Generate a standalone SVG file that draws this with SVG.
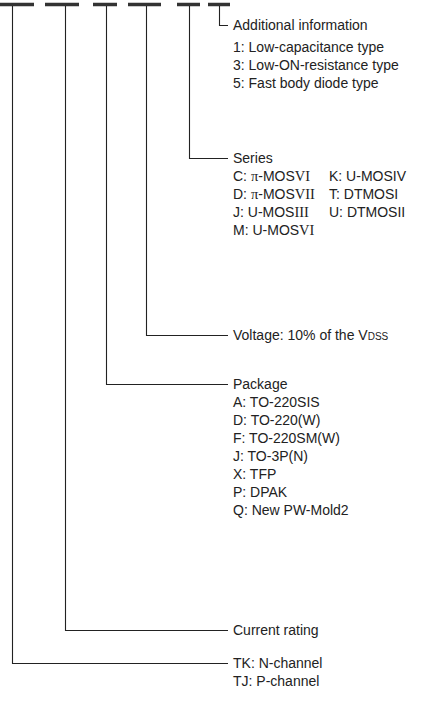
<svg xmlns="http://www.w3.org/2000/svg" width="435" height="725" viewBox="0 0 435 725">
<style>
.bar{stroke:#333;stroke-width:3.5;fill:none}
.ln{stroke:#222;stroke-width:1.1;fill:none}
text{font-family:"Liberation Sans",Arial,sans-serif;font-size:14px;fill:#222}
.r{font-family:"Liberation Serif","Times New Roman",serif;font-size:14.5px}
</style>
<rect width="435" height="725" fill="#fff"/>
<g id="bars">
<line class="bar" x1="0" y1="4.5" x2="34" y2="4.5"/>
<line class="bar" x1="45" y1="4.5" x2="79" y2="4.5"/>
<line class="bar" x1="93" y1="4.5" x2="117" y2="4.5"/>
<line class="bar" x1="128" y1="4.5" x2="161" y2="4.5"/>
<line class="bar" x1="177" y1="4.5" x2="200" y2="4.5"/>
<line class="bar" x1="208" y1="4.5" x2="230" y2="4.5"/>
</g>
<g id="connectors">
<polyline class="ln" points="12.5,6 12.5,663.5 228,663.5"/>
<polyline class="ln" points="65.5,6 65.5,630.5 228,630.5"/>
<polyline class="ln" points="106.5,6 106.5,384.5 228,384.5"/>
<polyline class="ln" points="146.5,6 146.5,335.5 228,335.5"/>
<polyline class="ln" points="189.5,6 189.5,158.5 228,158.5"/>
<polyline class="ln" points="219.5,6 219.5,25.5 228,25.5"/>
</g>
<g id="additional">
<text x="233" y="30">Additional information</text>
<text x="233" y="52">1: Low-capacitance type</text>
<text x="233" y="70">3: Low-ON-resistance type</text>
<text x="233" y="88">5: Fast body diode type</text>
</g>
<g id="series">
<text x="233" y="163">Series</text>
<text x="233" y="181">C: <tspan class="r">π</tspan>-MOS<tspan class="r">VI</tspan></text>
<text x="233" y="199">D: <tspan class="r">π</tspan>-MOS<tspan class="r">VII</tspan></text>
<text x="233" y="217">J: U-MOS<tspan class="r">III</tspan></text>
<text x="233" y="235">M: U-MOS<tspan class="r">VI</tspan></text>
<text x="329" y="181">K: U-MOSIV</text>
<text x="329" y="199">T: DTMOSI</text>
<text x="329" y="217">U: DTMOSII</text>
</g>
<g id="voltage">
<text x="233" y="340">Voltage: 10% of the V<tspan font-size="10">DSS</tspan></text>
</g>
<g id="package">
<text x="233" y="389">Package</text>
<text x="233" y="407">A: TO-220SIS</text>
<text x="233" y="425">D: TO-220(W)</text>
<text x="233" y="443">F: TO-220SM(W)</text>
<text x="233" y="461">J: TO-3P(N)</text>
<text x="233" y="479">X: TFP</text>
<text x="233" y="497">P: DPAK</text>
<text x="233" y="515">Q: New PW-Mold2</text>
</g>
<g id="current">
<text x="233" y="635">Current rating</text>
</g>
<g id="channel">
<text x="233" y="668">TK: N-channel</text>
<text x="233" y="686">TJ: P-channel</text>
</g>
</svg>
